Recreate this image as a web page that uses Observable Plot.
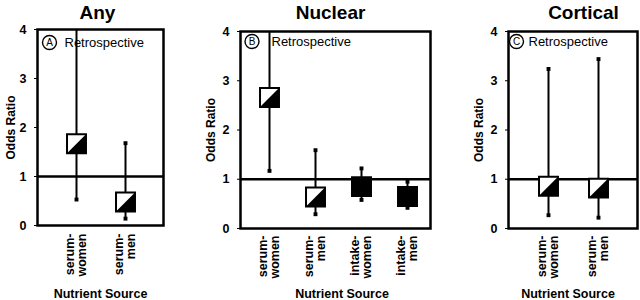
<!DOCTYPE html>
<html><head><meta charset="utf-8">
<script src="https://cdn.jsdelivr.net/npm/d3@7"></script>
<script src="https://cdn.jsdelivr.net/npm/@observablehq/plot@0.6"></script>
<style>
body{margin:0;background:#fff;}
#wrap{position:relative;width:640px;height:300px;overflow:hidden;background:#fff;}
#wrap svg{position:absolute;top:0;}
</style></head><body><div id="wrap"></div>
<script>
// ---- data ----
const panelTitles = ["Any", "Nuclear", "Cortical"];
const panelLetters = ["A", "B", "C"];
const studyLabel = "Retrospective";
const yLabel = "Odds Ratio";
const xLabel = "Nutrient Source";
const yTicks = [0, 1, 2, 3, 4];

const anySources = ["serum-women", "serum-men"];
const anyOR = [1.67, 0.48];
const anyLo = [0.53, 0.14];
const anyHi = [4.6, 1.68];

const nuclearSources = ["serum-women", "serum-men", "intake-women", "intake-men"];
const nuclearOR = [2.66, 0.64, 0.85, 0.65];
const nuclearLo = [1.17, 0.29, 0.58, 0.42];
const nuclearHi = [5.0, 1.59, 1.22, 0.95];

const corticalSources = ["serum-women", "serum-men"];
const corticalOR = [0.86, 0.82];
const corticalLo = [0.27, 0.22];
const corticalHi = [3.24, 3.44];

// ---- layout ----
const layouts = [
  {left: 0,   width: 200, ml: 37, mr: 37, mt: 29, mb: 75, xRange: [76, 125], xlDy: 8, nsDx: 0, nsDy: 68, tDx: -3, tDy: -17, yDx: -26, cDx: 12, cDy: 13, rDx: 27},
  {left: 200, width: 232, ml: 40, mr: 2,  mt: 31, mb: 72, xRange: [68, 207], xlDy: 7, nsDx: 6.5, nsDy: 65, tDx: -5, tDy: -18.5, yDx: -29, cDx: 11.5, cDy: 10, rDx: 31},
  {left: 440, width: 200, ml: 68, mr: 3,  mt: 31, mb: 72, xRange: [108, 158], xlDy: 7, nsDx: -5, nsDy: 65, tDx: 10.5, tDy: -18.5, yDx: -29, cDx: 8, cDy: 10, rDx: 20}
];

const halfSymbol = {
  draw(ctx, size) {
    const s = Math.sqrt(size) / 2;
    ctx.moveTo(-s, s); ctx.lineTo(s, -s); ctx.lineTo(s, s); ctx.closePath();
  }
};

const font = "'Liberation Sans', Arial, Helvetica, sans-serif";
const mid = {textAnchor: "middle", lineAnchor: "middle"};

function makePanel(i, cats, or, lo, hi) {
  const L = layouts[i];
  const rows = cats.map((c, k) => ({cat: c, or: or[k], lo: lo[k], hi: hi[k], solid: c.startsWith("intake")}));
  const svg = Plot.plot({
    width: L.width, height: 300,
    marginLeft: L.ml, marginRight: L.mr, marginTop: L.mt, marginBottom: L.mb,
    style: {fontFamily: font, fontSize: "12.5px", fontWeight: "bold", color: "black", background: "transparent", overflow: "visible"},
    x: {type: "point", domain: cats, range: L.xRange, padding: 0, axis: null},
    y: {domain: [0, 4], ticks: yTicks, tickFormat: d => String(d), tickSize: 3, tickPadding: 8, label: null},
    marks: [
      Plot.frame({strokeWidth: 2.5, stroke: "black"}),
      Plot.dot([0], {frameAnchor: "top-left", dx: L.cDx, dy: L.cDy, r: 7, stroke: "black", strokeWidth: 1.4, fill: "white"}),
      Plot.text([panelLetters[i]], {frameAnchor: "top-left", dx: L.cDx, dy: L.cDy, text: d => d, fontSize: 10, fontWeight: "normal", ...mid}),
      Plot.text([studyLabel], {frameAnchor: "top-left", dx: L.rDx, dy: L.cDy, text: d => d, textAnchor: "start", lineAnchor: "middle", fontSize: 13, fontWeight: "normal"}),
      Plot.ruleY([1], {strokeWidth: 2.5, stroke: "black"}),
      Plot.ruleX(rows, {x: "cat", y1: "lo", y2: "hi", strokeWidth: 2, stroke: "black", clip: true}),
      Plot.dot(rows, {x: "cat", y: "lo", symbol: "square", r: 2.2, fill: "black"}),
      Plot.dot(rows.filter(d => d.hi <= 4), {x: "cat", y: "hi", symbol: "square", r: 2.2, fill: "black"}),
      Plot.dot(rows, {x: "cat", y: "or", symbol: "square", r: 10.7, fill: d => d.solid ? "black" : "white", stroke: "black", strokeWidth: 2}),
      Plot.dot(rows.filter(d => !d.solid), {x: "cat", y: "or", symbol: halfSymbol, r: 10.7, fill: "black"}),
      Plot.text(cats, {x: d => d, frameAnchor: "bottom", dy: L.xlDy, text: d => d.replace("-", "-\n"), rotate: -90, textAnchor: "end", lineAnchor: "middle", lineHeight: 0.9, fontSize: 12.5}),
      Plot.text([xLabel], {frameAnchor: "bottom", dx: L.nsDx, dy: L.nsDy, text: d => d, fontSize: 12.5, ...mid}),
      Plot.text([panelTitles[i]], {frameAnchor: "top", dx: L.tDx, dy: L.tDy, text: d => d, fontSize: 19, ...mid}),
      Plot.text([yLabel], {frameAnchor: "left", dx: L.yDx, rotate: -90, text: d => d, fontSize: 12, ...mid})
    ]
  });
  svg.style.left = L.left + "px";
  document.getElementById("wrap").appendChild(svg);
}

makePanel(0, anySources, anyOR, anyLo, anyHi);
makePanel(1, nuclearSources, nuclearOR, nuclearLo, nuclearHi);
makePanel(2, corticalSources, corticalOR, corticalLo, corticalHi);
</script></body></html>
